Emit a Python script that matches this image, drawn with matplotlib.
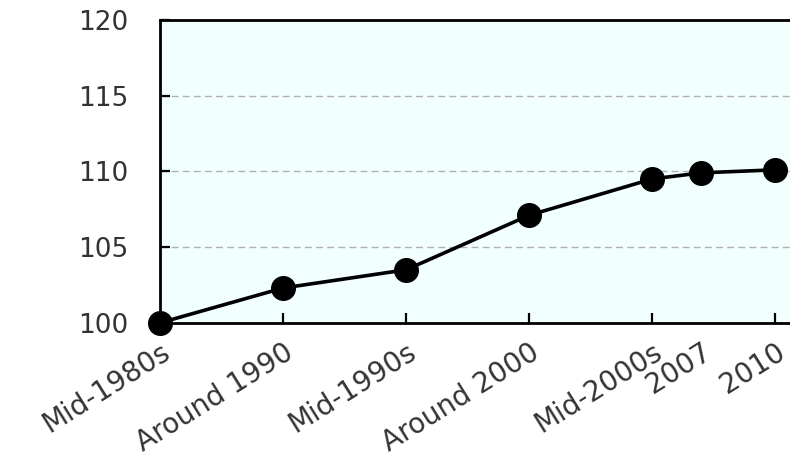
import matplotlib.pyplot as plt

# datos
years = [1985, 1990, 1995, 2000, 2005, 2007, 2010]
labels = ['Mid-1980s', 'Around 1990', 'Mid-1990s', 'Around 2000',
          'Mid-2000s', '2007', '2010']
values = [100, 102.3, 103.5, 107.1, 109.5, 109.9, 110.1]

fig = plt.figure(figsize=(7.9, 4.72), dpi=100)
ax = fig.add_axes([0.2025, 0.316, 0.7975, 0.642])
ax.set_facecolor('#f2ffff')

ax.plot(years, values, color='black', linewidth=2.6, marker='o',
        markersize=17, clip_on=False, zorder=3)

ax.set_xlim(1985, 2010.6)
ax.set_ylim(100, 120)
ax.set_yticks([100, 105, 110, 115, 120])
ax.set_xticks(years)
ax.set_xticklabels(labels, rotation=32, ha='right', va='top',
                   rotation_mode='anchor')

ax.tick_params(axis='both', direction='in', length=7, width=1.6,
               labelcolor='#333333')
ax.tick_params(axis='x', pad=11, labelsize=20)
ax.tick_params(axis='y', pad=23, labelsize=19)

# 2007 sin marca de tick
ax.xaxis.get_major_ticks()[5].tick1line.set_visible(False)

ax.yaxis.grid(True, linestyle=(0, (5, 3)), color='#b0b0b0', linewidth=1)
ax.set_axisbelow(True)

for s in ['left', 'bottom', 'top']:
    ax.spines[s].set_linewidth(2)
ax.spines['right'].set_visible(False)

plt.savefig('out.png', dpi=100, facecolor='white')
